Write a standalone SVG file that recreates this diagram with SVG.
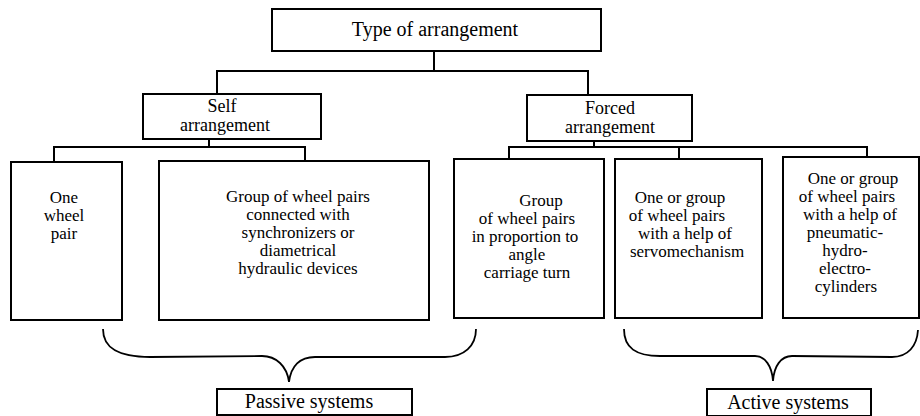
<svg xmlns="http://www.w3.org/2000/svg" width="920" height="416" viewBox="0 0 920 416">
<style>
.box{fill:#fff;stroke:#000;stroke-width:2}
.ln{fill:none;stroke:#000;stroke-width:2}
.br{fill:none;stroke:#000;stroke-width:1.8}
text{font-family:"Liberation Serif","DejaVu Serif",serif;font-size:17px;fill:#000;text-anchor:middle}
.lg{font-size:20px}
.md{font-size:18px}
</style>
<rect width="920" height="416" fill="#fff"/>
<g id="connectors">
<path class="ln" d="M434,51 V71 M217,94 V71 H588 V95"/>
<path class="ln" d="M209,139 V147 M54,162 V147 H305 V161"/>
<path class="ln" d="M594,141 V147 M509,159 V147 H867 V157 M679,147 V159"/>
<path class="br" d="M103,329 C103,348 118,357 150,357 L262,356 C276,356 287,366 289,382 C291,366 300,357 315,357 L445,357 C464,357 476,346 476,329"/>
<path class="br" d="M624,329 C624,348 636,356 660,356 L755,356 C765,356 772,366 773,381 C774,366 781,356 792,356 L892,357 C908,357 917,346 918,330"/>
</g>
<g id="top"><rect class="box" x="272" y="9" width="329" height="42"/><text class="lg" x="435" y="36">Type of arrangement</text></g>
<g id="self"><rect class="box" x="143" y="94" width="178" height="45"/><text class="md" x="222" y="112">Self</text><text class="md" x="225" y="131">arrangement</text></g>
<g id="forced"><rect class="box" x="527" y="95" width="165" height="46"/><text class="md" x="610" y="114">Forced</text><text class="md" x="610" y="133">arrangement</text></g>
<g id="one-wheel"><rect class="box" x="11" y="162" width="111" height="158"/><text x="64" y="203">One</text><text x="64" y="221">wheel</text><text x="64" y="239">pair</text></g>
<g id="group-sync"><rect class="box" x="159" y="161" width="270" height="159"/><text x="298" y="202">Group of wheel pairs</text><text x="298" y="220">connected with</text><text x="298" y="238">synchronizers or</text><text x="298" y="256">diametrical</text><text x="298" y="274">hydraulic devices</text></g>
<g id="group-angle"><rect class="box" x="454" y="159" width="150" height="159"/><text x="541" y="206">Group</text><text x="527" y="224">of wheel pairs</text><text x="525" y="242">in proportion to</text><text x="527" y="260">angle</text><text x="527" y="278">carriage turn</text></g>
<g id="servo"><rect class="box" x="615" y="159" width="147" height="159"/><text x="680" y="203">One or group</text><text x="677" y="221">of wheel pairs</text><text x="685" y="239">with a help of</text><text x="687" y="257">servomechanism</text></g>
<g id="cylinders"><rect class="box" x="783" y="157" width="136" height="161"/><text x="853" y="184">One or group</text><text x="847" y="202">of wheel pairs</text><text x="850" y="220">with a help of</text><text x="845" y="238">pneumatic-</text><text x="845" y="256">hydro-</text><text x="845" y="274">electro-</text><text x="846" y="292">cylinders</text></g>
<g id="passive"><rect class="box" x="217" y="389" width="195" height="26"/><text class="lg" x="309" y="408">Passive systems</text></g>
<g id="active"><rect class="box" x="707" y="389" width="164" height="27"/><text class="lg" x="788" y="409">Active systems</text></g>
</svg>
